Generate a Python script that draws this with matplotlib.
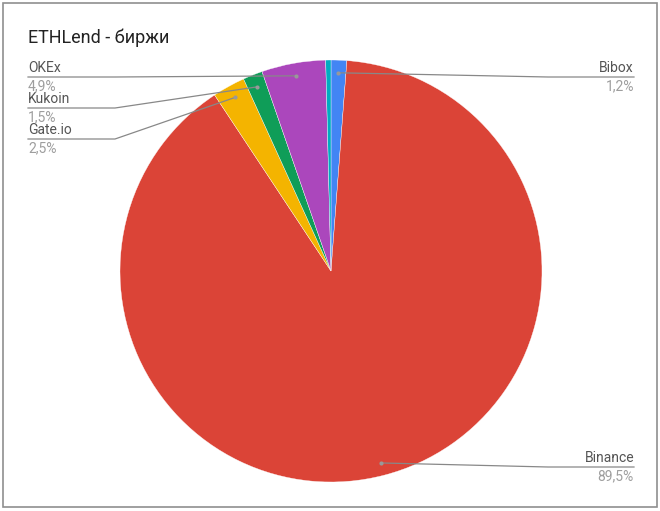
import numpy as np
import matplotlib
matplotlib.use("Agg")
import matplotlib.pyplot as plt
from matplotlib.patches import Rectangle

# data
exchanges = ["Bibox", "Binance", "Gate.io", "Kukoin", "OKEx", ""]
shares = [1.2, 89.5, 2.5, 1.5, 4.9, 0.4]
colors = ["#4285F4", "#DB4437", "#F4B400", "#0F9D58", "#AB47BC", "#00ACC1"]
pct_labels = ["1,2%", "89,5%", "2,5%", "1,5%", "4,9%", ""]

W, H = 660, 511
plt.rcParams['font.family'] = ['Roboto', 'DejaVu Sans']

fig = plt.figure(figsize=(W / 100, H / 100), dpi=100)
ax = fig.add_axes([0, 0, 1, 1])


def py(y):
    # pixel row -> data y
    return H - y


cx, cy, R = 331, py(271), 211
wedges, _ = ax.pie(shares, colors=colors, startangle=90, counterclock=False,
                   center=(cx, cy), radius=R, frame=True,
                   wedgeprops=dict(edgecolor='white', linewidth=0.25))
ax.set_xlim(0, W)
ax.set_ylim(0, H)
ax.set_aspect('equal')
ax.axis('off')

# frame of the chart
ax.add_patch(Rectangle((3, py(507)), 654, 504, fill=False, edgecolor='#8f8f8f', lw=1.2))

ax.text(28, py(38), "ETHLend - биржи", fontsize=13, color='#222222', va='center', ha='left')

# label layout: (name row, side)
layout = {
    "Bibox": (68, 'right'),
    "Binance": (458, 'right'),
    "OKEx": (68, 'left'),
    "Kukoin": (99, 'left'),
    "Gate.io": (130, 'left'),
}

for w, name, pct in zip(wedges, exchanges, pct_labels):
    if not name:
        continue
    ang = np.deg2rad((w.theta1 + w.theta2) / 2)
    dx = cx + 0.94 * R * np.cos(ang)
    dy = cy + 0.94 * R * np.sin(ang)
    row, side = layout[name]
    under = py(row + 9)
    if side == 'right':
        tx = 634
        elbow = 548
        ax.text(tx, py(row), name, fontsize=10, color='#555555', ha='right', va='center')
        ax.text(tx, py(row + 18), pct, fontsize=10, color='#9e9e9e', ha='right', va='center')
        ax.plot([dx, elbow, tx], [dy, under, under], color='#888888', lw=0.9)
    else:
        tx = 28
        elbow = 115
        ax.text(tx, py(row), name, fontsize=10, color='#555555', ha='left', va='center')
        ax.text(tx, py(row + 18), pct, fontsize=10, color='#9e9e9e', ha='left', va='center')
        ax.plot([tx, elbow, dx], [under, under, dy], color='#888888', lw=0.9)
    ax.plot(dx, dy, 'o', ms=3, color='#999999', mec='none')

fig.savefig("out.png", dpi=100)
